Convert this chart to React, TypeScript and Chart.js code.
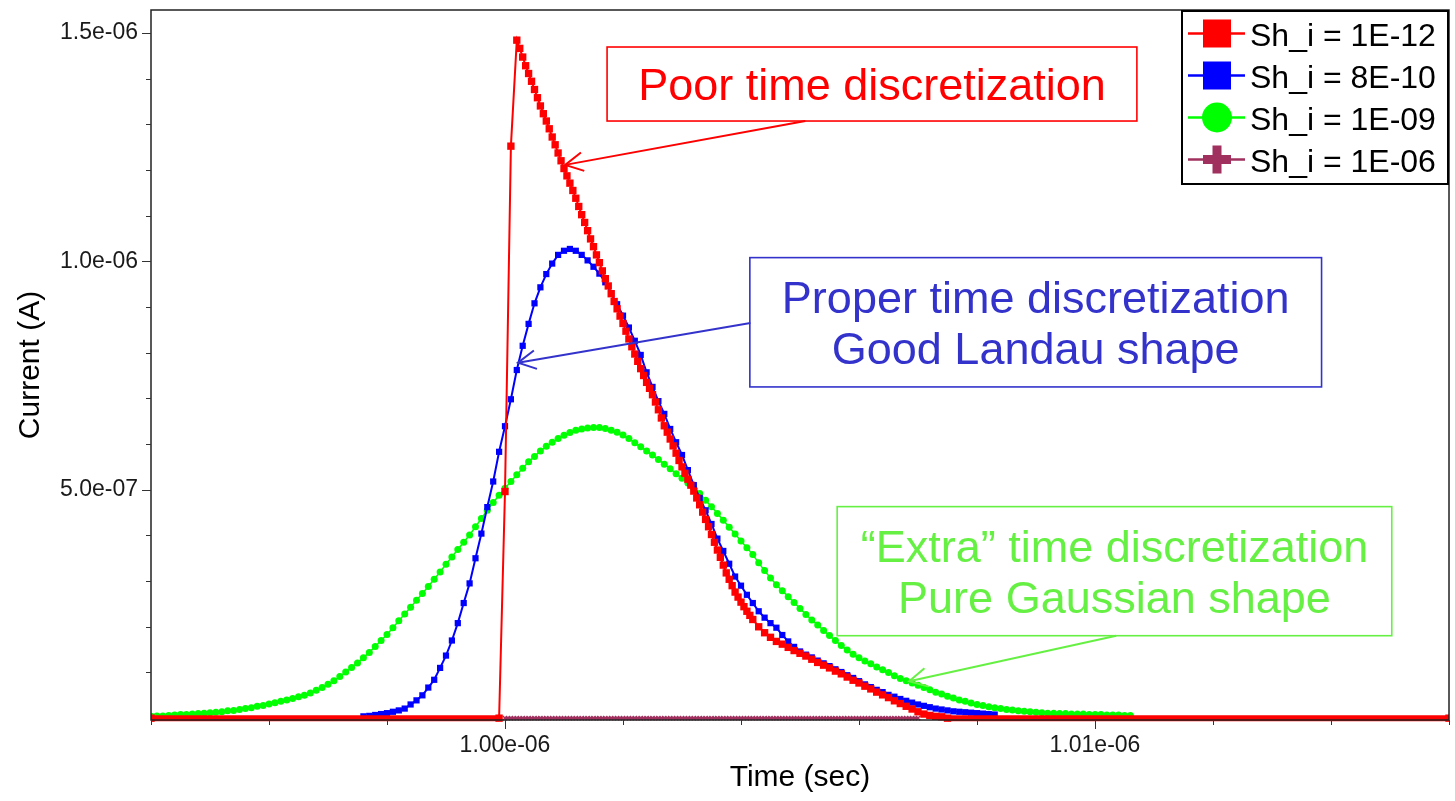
import React, { useEffect, useRef } from 'react';
import { Chart, registerables } from 'chart.js';

Chart.register(...registerables);

const FONT_FAMILY = '"Liberation Sans", Arial, Helvetica, sans-serif';

// ---------- series meta ----------
const seriesNames = ['Sh_i = 1E-12', 'Sh_i = 8E-10', 'Sh_i = 1E-09', 'Sh_i = 1E-06'];
const seriesColors = ['#ff0000', '#0000ff', '#00ff00', '#a0305e'];

// ---------- axes (time in ns, current in µA) ----------
const X_MIN_NS = 994;
const X_MAX_NS = 1016;
const Y_MIN_UA = -0.004;
const Y_MAX_UA = 1.55;

const xMinorTicksNs = [994, 996, 998, 1002, 1004, 1006, 1008, 1012, 1014, 1016];
const xMajorTicksNs = [1000, 1010];
const xMajorTickLabels = ['1.00e-06', '1.01e-06'];
const yMinorTicksUA = [0.1, 0.2, 0.3, 0.4, 0.6, 0.7, 0.8, 0.9, 1.1, 1.2, 1.3, 1.4];
const yMajorTicksUA = [0.5, 1.0, 1.5];
const yMajorTickLabels = ['5.0e-07', '1.0e-06', '1.5e-06'];
const xAxisTitle = 'Time (sec)';
const yAxisTitle = 'Current (A)';

// ---------- Sh_i = 1E-12 (red) ----------
const redTimeNs = [
  994.0, 999.9, 1000.0, 1000.1,
  1000.2, 1000.25, 1000.3, 1000.35, 1000.4, 1000.45, 1000.5, 1000.55, 1000.6, 1000.65,
  1000.7, 1000.75, 1000.8, 1000.85, 1000.9, 1000.95, 1001.0, 1001.05, 1001.1, 1001.15,
  1001.2, 1001.25, 1001.3, 1001.35, 1001.4, 1001.45, 1001.5, 1001.55, 1001.6, 1001.65,
  1001.7, 1001.75, 1001.8, 1001.85, 1001.9, 1001.95, 1002.0, 1002.05, 1002.1, 1002.15,
  1002.2, 1002.25, 1002.3, 1002.35, 1002.4, 1002.45, 1002.5, 1002.55, 1002.6, 1002.65,
  1002.7, 1002.75, 1002.8, 1002.85, 1002.9, 1002.95, 1003.0, 1003.05, 1003.1, 1003.15,
  1003.2, 1003.25, 1003.3, 1003.35, 1003.4, 1003.45, 1003.5, 1003.55, 1003.6, 1003.65,
  1003.7, 1003.75, 1003.8, 1003.85, 1003.9, 1003.95, 1004.0, 1004.05, 1004.1, 1004.15,
  1004.2,
  1004.3, 1004.4, 1004.5, 1004.6, 1004.7, 1004.8, 1004.9, 1005.0, 1005.1, 1005.2,
  1005.3, 1005.4, 1005.5, 1005.6, 1005.7, 1005.8, 1005.9, 1006.0, 1006.1, 1006.2,
  1006.3, 1006.4, 1006.5, 1006.6, 1006.7, 1006.8, 1006.9, 1007.0, 1007.1, 1007.2,
  1007.3, 1007.4,
  1007.5, 1016.0,
];
const redCurrentUA = [
  0, 0, 0.496, 1.252,
  1.484, 1.466, 1.447, 1.428, 1.411, 1.394, 1.376, 1.358, 1.340, 1.323,
  1.307, 1.290, 1.272, 1.255, 1.237, 1.220, 1.203, 1.187, 1.171, 1.155,
  1.138, 1.120, 1.102, 1.085, 1.067, 1.049, 1.032, 1.014, 0.997, 0.979,
  0.962, 0.946, 0.929, 0.912, 0.896, 0.880, 0.864, 0.847, 0.830, 0.813,
  0.797, 0.781, 0.765, 0.750, 0.735, 0.722, 0.708, 0.692, 0.675, 0.657,
  0.640, 0.626, 0.611, 0.596, 0.580, 0.564, 0.550, 0.536, 0.523, 0.510,
  0.497, 0.482, 0.467, 0.451, 0.435, 0.419, 0.402, 0.385, 0.368, 0.352,
  0.335, 0.318, 0.304, 0.290, 0.276, 0.265, 0.254, 0.244, 0.234, 0.225,
  0.216,
  0.200, 0.187, 0.177, 0.168, 0.162, 0.155, 0.148, 0.142, 0.136, 0.129,
  0.122, 0.116, 0.110, 0.103, 0.097, 0.090, 0.083, 0.077, 0.070, 0.064,
  0.057, 0.051, 0.045, 0.038, 0.032, 0.026, 0.020, 0.014, 0.009, 0.006,
  0.004, 0.003,
  0, 0,
];

// ---------- Sh_i = 8E-10 (blue), sampled every 0.1 ns from 997.6 ns ----------
const blueStartNs = 997.6;
const blueStepNs = 0.1;
const blueCurrentUA = [
  0.004, 0.005, 0.007, 0.009, 0.011, 0.014, 0.017, 0.021, 0.030, 0.039,
  0.050, 0.067, 0.084, 0.110, 0.137, 0.170, 0.208, 0.252, 0.295, 0.350,
  0.404, 0.462, 0.518, 0.583, 0.639, 0.698, 0.762, 0.815, 0.863, 0.908,
  0.943, 0.972, 0.995, 1.014, 1.023, 1.027, 1.023, 1.014, 1.002, 0.988,
  0.973, 0.954, 0.930, 0.906, 0.881, 0.855, 0.826, 0.795, 0.757, 0.725,
  0.694, 0.666, 0.633, 0.604, 0.576, 0.543, 0.510, 0.482, 0.455, 0.425,
  0.393, 0.366, 0.338, 0.310, 0.290, 0.270, 0.252, 0.234, 0.220, 0.208,
  0.198, 0.182, 0.168, 0.156, 0.146, 0.139, 0.133, 0.126, 0.120, 0.114,
  0.107, 0.101, 0.094, 0.088, 0.081, 0.074, 0.068, 0.062, 0.057, 0.051,
  0.047, 0.042, 0.038, 0.034, 0.030, 0.027, 0.024, 0.021, 0.019, 0.017,
  0.015, 0.014, 0.013, 0.012, 0.011, 0.010, 0.009, 0.008,
];

// ---------- Sh_i = 1E-09 (green), sampled every 0.1 ns from 994.0 ns ----------
const greenStartNs = 994.0;
const greenStepNs = 0.1;
const greenCurrentUA = [
  0.004, 0.005, 0.005, 0.006, 0.007, 0.008, 0.008, 0.009, 0.010, 0.011,
  0.012, 0.013, 0.014, 0.016, 0.017, 0.019, 0.021, 0.023, 0.026, 0.028,
  0.031, 0.034, 0.037, 0.040, 0.043, 0.047, 0.050, 0.055, 0.061, 0.067,
  0.074, 0.082, 0.091, 0.101, 0.111, 0.121, 0.132, 0.144, 0.157, 0.170,
  0.183, 0.198, 0.213, 0.228, 0.243, 0.258, 0.273, 0.288, 0.304, 0.320,
  0.337, 0.353, 0.369, 0.385, 0.401, 0.419, 0.437, 0.455, 0.472, 0.488,
  0.503, 0.518, 0.533, 0.547, 0.561, 0.573, 0.585, 0.595, 0.604, 0.612,
  0.619, 0.625, 0.630, 0.633, 0.635, 0.636, 0.636, 0.634, 0.630, 0.626,
  0.620, 0.612, 0.603, 0.594, 0.585, 0.576, 0.566, 0.556, 0.546, 0.535,
  0.525, 0.515, 0.503, 0.492, 0.477, 0.463, 0.448, 0.433, 0.418, 0.403,
  0.388, 0.373, 0.358, 0.340, 0.323, 0.307, 0.292, 0.279, 0.266, 0.253,
  0.240, 0.227, 0.215, 0.204, 0.192, 0.181, 0.170, 0.159, 0.149, 0.140,
  0.132, 0.125, 0.119, 0.112, 0.106, 0.100, 0.093, 0.087, 0.082, 0.077,
  0.072, 0.067, 0.062, 0.057, 0.053, 0.048, 0.044, 0.040, 0.037, 0.033,
  0.030, 0.028, 0.025, 0.023, 0.021, 0.019, 0.018, 0.016, 0.015, 0.014,
  0.013, 0.012, 0.011, 0.011, 0.010, 0.010, 0.009, 0.009, 0.009, 0.008,
  0.008, 0.008, 0.007, 0.007, 0.007, 0.006, 0.006,
];

// ---------- Sh_i = 1E-06 (purple), sampled every 0.1 ns from 1000.0 ns ----------
const purpleStartNs = 1000.0;
const purpleStepNs = 0.1;
const purpleCurrentUA = [
  0, 0, 0, 0, 0, 0, 0, 0, 0, 0,
  0, 0, 0, 0, 0, 0, 0, 0, 0, 0,
  0, 0, 0, 0, 0, 0, 0, 0, 0, 0,
  0, 0, 0, 0, 0, 0, 0, 0, 0, 0,
  0, 0, 0, 0, 0, 0, 0, 0, 0, 0,
  0, 0, 0, 0, 0, 0, 0, 0, 0, 0,
  0, 0, 0, 0, 0, 0, 0, 0, 0, 0,
  0,
];

// ---------- annotations (data units: ns / µA) ----------
const annotationTexts = [
  ['Poor time discretization'],
  ['Proper time discretization', 'Good Landau shape'],
  ['\u201CExtra\u201D time discretization', 'Pure Gaussian shape'],
];
const annotationColors = ['#ff0000', '#3333cc', '#66f044'];
const annotationBoxes = [
  [1001.73, 1.469, 1010.71, 1.307],
  [1004.15, 1.008, 1013.84, 0.725],
  [1005.63, 0.463, 1015.03, 0.1805],
];
const annotationTails = [[1005.09, 1.307], [1004.16, 0.865], [1010.36, 0.1805]];
const annotationTips = [[1001.02, 1.211], [1000.22, 0.778], [1006.85, 0.081]];

function zipPoints(times: number[], values: number[]) {
  return values.map((v, i) => ({ x: times[i], y: v }));
}
function sampledPoints(start: number, step: number, values: number[]) {
  return values.map((v, i) => ({ x: Math.round((start + i * step) * 100) / 100, y: v }));
}

function drawArrow(ctx: CanvasRenderingContext2D, x1: number, y1: number, x2: number, y2: number) {
  ctx.beginPath();
  ctx.moveTo(x1, y1);
  ctx.lineTo(x2, y2);
  ctx.stroke();
  const ang = Math.atan2(y1 - y2, x1 - x2);
  const L = 20;
  const a = Math.PI / 6.5;
  ctx.beginPath();
  ctx.moveTo(x2 + L * Math.cos(ang - a), y2 + L * Math.sin(ang - a));
  ctx.lineTo(x2, y2);
  ctx.lineTo(x2 + L * Math.cos(ang + a), y2 + L * Math.sin(ang + a));
  ctx.stroke();
}

const overlayPlugin = {
  id: 'overlay',
  afterDraw(chart: any) {
    const { ctx, chartArea } = chart;
    const xs = chart.scales.x;
    const ys = chart.scales.y;
    const { left, right, top, bottom } = chartArea;

    ctx.save();
    // frame
    ctx.strokeStyle = '#222';
    ctx.lineWidth = 1.5;
    ctx.strokeRect(left, top, right - left, bottom - top);

    // tick marks
    ctx.lineWidth = 1;
    ctx.strokeStyle = '#333';
    const drawY = (v: number, len: number) => {
      const y = Math.round(ys.getPixelForValue(v)) + 0.5;
      ctx.beginPath();
      ctx.moveTo(left - len, y);
      ctx.lineTo(left, y);
      ctx.stroke();
    };
    const drawX = (v: number, len: number) => {
      const x = Math.round(xs.getPixelForValue(v)) + 0.5;
      ctx.beginPath();
      ctx.moveTo(x, bottom);
      ctx.lineTo(x, bottom + len);
      ctx.stroke();
    };
    yMinorTicksUA.forEach((v) => drawY(v, 5));
    yMajorTicksUA.forEach((v) => drawY(v, 9));
    xMinorTicksNs.forEach((v) => drawX(v, 5));
    xMajorTicksNs.forEach((v) => drawX(v, 9));

    // annotations
    annotationTexts.forEach((lines, i) => {
      const [t0, v0, t1, v1] = annotationBoxes[i];
      const bx0 = xs.getPixelForValue(t0);
      const bx1 = xs.getPixelForValue(t1);
      const by0 = ys.getPixelForValue(v0);
      const by1 = ys.getPixelForValue(v1);
      const color = annotationColors[i];
      ctx.strokeStyle = color;
      ctx.fillStyle = color;
      ctx.lineWidth = 1.6;
      ctx.strokeRect(bx0, by0, bx1 - bx0, by1 - by0);
      ctx.font = `45px ${FONT_FAMILY}`;
      ctx.textAlign = 'center';
      ctx.textBaseline = 'alphabetic';
      const cx = (bx0 + bx1) / 2;
      const cy = (by0 + by1) / 2;
      const spacing = 51;
      lines.forEach((line, j) => {
        const ly = cy + (j - (lines.length - 1) / 2) * spacing + 16;
        ctx.fillText(line, cx, ly);
      });
      ctx.lineWidth = 2;
      const [tt, tv] = annotationTails[i];
      const [pt, pv] = annotationTips[i];
      drawArrow(
        ctx,
        xs.getPixelForValue(tt),
        ys.getPixelForValue(tv),
        xs.getPixelForValue(pt),
        ys.getPixelForValue(pv)
      );
    });

    // legend
    const lgRight = right - 1;
    const lgLeft = lgRight - 266;
    const lgTop = top + 1;
    const lgH = 173;
    ctx.fillStyle = '#fff';
    ctx.fillRect(lgLeft, lgTop, lgRight - lgLeft, lgH);
    ctx.strokeStyle = '#000';
    ctx.lineWidth = 2;
    ctx.strokeRect(lgLeft, lgTop, lgRight - lgLeft, lgH);
    seriesNames.forEach((name, i) => {
      const cy = lgTop + 22.5 + i * 42;
      const color = seriesColors[i];
      const mx = lgLeft + 35;
      ctx.strokeStyle = color;
      ctx.lineWidth = 2.5;
      ctx.beginPath();
      ctx.moveTo(lgLeft + 6, cy);
      ctx.lineTo(lgLeft + 63, cy);
      ctx.stroke();
      ctx.fillStyle = color;
      if (i === 0 || i === 1) {
        ctx.fillRect(mx - 14, cy - 14, 28, 28);
      } else if (i === 2) {
        ctx.beginPath();
        ctx.arc(mx, cy, 15, 0, Math.PI * 2);
        ctx.fill();
      } else {
        ctx.fillRect(mx - 14, cy - 4.5, 28, 9);
        ctx.fillRect(mx - 4.5, cy - 14, 9, 28);
      }
      ctx.fillStyle = '#000';
      ctx.font = `32px ${FONT_FAMILY}`;
      ctx.textAlign = 'left';
      ctx.textBaseline = 'alphabetic';
      ctx.fillText(name, lgLeft + 68, cy + 12);
    });
    ctx.restore();
  },
};

export default function App() {
  const canvasRef = useRef<HTMLCanvasElement | null>(null);

  useEffect(() => {
    const canvas = canvasRef.current;
    if (!canvas) return;

    const zeroBand = (c: any) =>
      c.p0.parsed.y === 0 && c.p1.parsed.y === 0 ? 6 : undefined;
    const bandClip = { left: 0, right: 0, top: 6, bottom: 6 };

    const chart = new Chart(canvas, {
      type: 'line',
      data: {
        datasets: [
          {
            label: seriesNames[0],
            data: zipPoints(redTimeNs, redCurrentUA),
            borderColor: seriesColors[0],
            backgroundColor: seriesColors[0],
            borderWidth: 2,
            pointStyle: 'rect',
            pointRadius: 5.2,
            pointBorderWidth: 0,
            clip: bandClip,
            segment: { borderWidth: zeroBand },
          },
          {
            label: seriesNames[1],
            data: sampledPoints(blueStartNs, blueStepNs, blueCurrentUA),
            borderColor: seriesColors[1],
            backgroundColor: seriesColors[1],
            borderWidth: 2,
            pointStyle: 'rect',
            pointRadius: 4.4,
            pointBorderWidth: 0,
          },
          {
            label: seriesNames[2],
            data: sampledPoints(greenStartNs, greenStepNs, greenCurrentUA),
            borderColor: seriesColors[2],
            backgroundColor: seriesColors[2],
            borderWidth: 1.5,
            pointStyle: 'circle',
            pointRadius: 3.5,
            pointBorderWidth: 0,
          },
          {
            label: seriesNames[3],
            data: sampledPoints(purpleStartNs, purpleStepNs, purpleCurrentUA),
            borderColor: seriesColors[3],
            backgroundColor: seriesColors[3],
            borderWidth: 3,
            pointStyle: 'crossRot',
            pointRadius: 3,
            pointBorderWidth: 1.5,
            clip: bandClip,
          },
        ],
      },
      options: {
        animation: false,
        responsive: false,
        events: [],
        layout: { padding: { left: 0, top: 10, right: 6, bottom: 0 } },
        elements: { line: { tension: 0 } },
        plugins: {
          legend: { display: false },
          tooltip: { enabled: false },
        },
        scales: {
          x: {
            type: 'linear',
            min: X_MIN_NS,
            max: X_MAX_NS,
            afterBuildTicks: (scale: any) => {
              scale.ticks = [...xMinorTicksNs, ...xMajorTicksNs]
                .sort((a, b) => a - b)
                .map((v) => ({ value: v }));
            },
            afterFit: (scale: any) => {
              scale.height = 81;
              scale.paddingLeft = 0;
              scale.paddingRight = 0;
            },
            grid: {
              display: true,
              drawOnChartArea: false,
              drawTicks: true,
              tickLength: 9,
              tickColor: 'rgba(0,0,0,0)',
            },
            border: { display: false },
            ticks: {
              autoSkip: false,
              maxRotation: 0,
              padding: 3,
              color: '#1a1a1a',
              font: { family: FONT_FAMILY, size: 23 },
              callback: (value: any) => {
                const i = xMajorTicksNs.findIndex((v) => Math.abs(v - Number(value)) < 1e-6);
                return i >= 0 ? xMajorTickLabels[i] : '';
              },
            },
            title: {
              display: true,
              text: xAxisTitle,
              color: '#000',
              font: { family: FONT_FAMILY, size: 30 },
              padding: { top: 0, bottom: 5 },
            },
          },
          y: {
            type: 'linear',
            min: Y_MIN_UA,
            max: Y_MAX_UA,
            afterBuildTicks: (scale: any) => {
              scale.ticks = [...yMinorTicksUA, ...yMajorTicksUA]
                .sort((a, b) => a - b)
                .map((v) => ({ value: v }));
            },
            afterFit: (scale: any) => {
              scale.width = 151;
              scale.paddingTop = 0;
              scale.paddingBottom = 0;
            },
            grid: {
              display: true,
              drawOnChartArea: false,
              drawTicks: true,
              tickLength: 9,
              tickColor: 'rgba(0,0,0,0)',
            },
            border: { display: false },
            ticks: {
              autoSkip: false,
              padding: 4,
              color: '#1a1a1a',
              font: { family: FONT_FAMILY, size: 23 },
              callback: (value: any) => {
                const i = yMajorTicksUA.findIndex((v) => Math.abs(v - Number(value)) < 1e-6);
                return i >= 0 ? yMajorTickLabels[i] : '';
              },
            },
            title: {
              display: true,
              text: yAxisTitle,
              color: '#000',
              font: { family: FONT_FAMILY, size: 30 },
              padding: { top: 13, bottom: 0 },
            },
          },
        },
      },
      plugins: [overlayPlugin],
    } as any);

    return () => {
      chart.destroy();
    };
  }, []);

  return (
    <div style={{ position: 'fixed', left: 0, top: 0, width: 1455, height: 801, background: '#fff' }}>
      <canvas ref={canvasRef} width={1455} height={801} style={{ display: 'block' }} />
    </div>
  );
}
